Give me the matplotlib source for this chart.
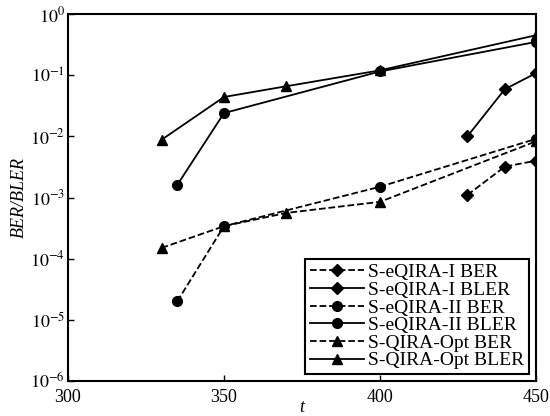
import matplotlib
matplotlib.use("Agg")
import matplotlib.pyplot as plt

plt.rcParams['font.family'] = ['Liberation Serif', 'DejaVu Serif']
plt.rcParams['mathtext.fontset'] = 'stix'

# S-eQIRA-I
x_e1 = [428, 440, 450]
ber_e1 = [1.1e-3, 3.2e-3, 4.0e-3]
bler_e1 = [1.0e-2, 5.9e-2, 1.08e-1]
# S-eQIRA-II
x_e2 = [335, 350, 400, 450]
ber_e2 = [2.0e-5, 3.4e-4, 1.5e-3, 9.1e-3]
bler_e2 = [1.6e-3, 2.4e-2, 1.15e-1, 3.5e-1]
# S-QIRA-Opt
x_opt = [330, 350, 370, 400, 450]
ber_opt = [1.5e-4, 3.4e-4, 5.6e-4, 8.5e-4, 8.3e-3]
bler_opt = [8.8e-3, 4.4e-2, 6.6e-2, 1.2e-1, 4.5e-1]

labels = ['S-eQIRA-I BER', 'S-eQIRA-I BLER', 'S-eQIRA-II BER',
          'S-eQIRA-II BLER', 'S-QIRA-Opt BER', 'S-QIRA-Opt BLER']
xticks = [300, 350, 400, 450]

fig = plt.figure(figsize=(5.5, 4.16), dpi=100)
ax = fig.add_axes([0.1236, 0.0841, 0.851, 0.8822])

lw = 1.3
ms = 7
ax.plot(x_e1, ber_e1, 'k--D', lw=lw, ms=ms - 1, label=labels[0])
ax.plot(x_e1, bler_e1, 'k-D', lw=lw, ms=ms - 1, label=labels[1])
ax.plot(x_e2, ber_e2, 'k--o', lw=lw, ms=ms, label=labels[2])
ax.plot(x_e2, bler_e2, 'k-o', lw=lw, ms=ms, label=labels[3])
ax.plot(x_opt, ber_opt, 'k--^', lw=lw, ms=ms, label=labels[4])
ax.plot(x_opt, bler_opt, 'k-^', lw=lw, ms=ms, label=labels[5])

ax.set_yscale('log')
ax.set_xlim(300, 450)
ax.set_ylim(1e-6, 1)
ax.set_xticks(xticks)
ax.set_xticklabels([str(v) for v in xticks])
ax.set_yticks([10.0 ** e for e in range(-6, 1)])
ax.set_yticklabels([r'$10^{%d}$' % e for e in range(-6, 1)])
ax.minorticks_off()
ax.tick_params(direction='in', length=4, width=1, labelsize=13, top=False, right=False)
ax.tick_params(axis='y', pad=2)
ax.tick_params(axis='x', pad=6)
for s in ax.spines.values():
    s.set_linewidth(1.5)

ax.set_xlabel('t', style='italic', fontsize=13, labelpad=-5)
ax.set_ylabel('BER/BLER', style='italic', fontsize=13, labelpad=2)

leg = ax.legend(loc='lower right', fontsize=14, frameon=True, fancybox=False,
                edgecolor='k', framealpha=1, labelspacing=0.0, handlelength=2.8,
                handletextpad=0.2, borderpad=0.25, borderaxespad=0.35)
leg.get_frame().set_linewidth(1.5)

fig.savefig('out.png', dpi=100)
